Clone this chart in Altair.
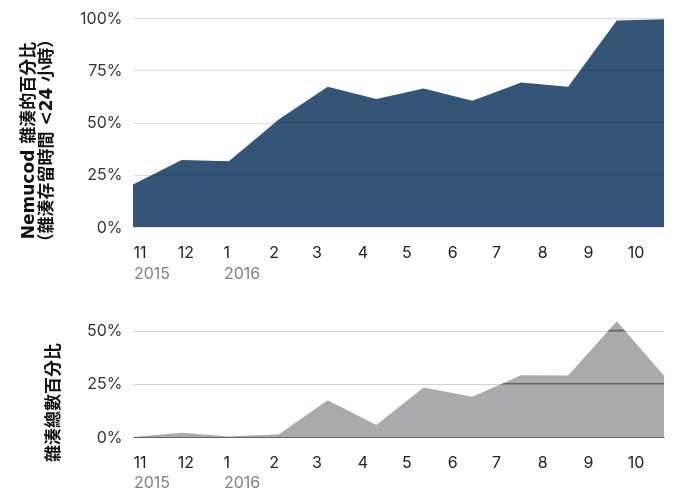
import altair as alt
import pandas as pd

# Data points (evenly spaced through the period)
dates = ["2015-11-01", "2015-12-04", "2016-01-05", "2016-02-08", "2016-03-12",
         "2016-04-14", "2016-05-16", "2016-06-18", "2016-07-21", "2016-08-22",
         "2016-09-24", "2016-10-26"]
nemucod_short_share = [0.203, 0.320, 0.314, 0.516, 0.671, 0.612, 0.663, 0.604,
                       0.691, 0.671, 0.988, 0.994]
hash_total_share = [0.0, 0.020, 0.002, 0.013, 0.173, 0.057, 0.233, 0.189,
                    0.290, 0.289, 0.544, 0.288]

year_labels = ["2015", "2016"]
year_dates = ["2015-11-01", "2016-01-01"]

top_ticks = [0, 0.25, 0.5, 0.75, 1.0]
bottom_ticks = [0, 0.25, 0.5]

top_title = ["Nemucod 雜湊的百分比", "（雜湊存留時間 <24 小時）"]
bottom_title = "雜湊總數百分比"

W = 531
LABEL_FONT = "Inter"
TITLE_FONT = "DejaVu Sans, Noto Sans CJK TC"


def panel(values, color, height, ydomain, yticks, title, title_y, burn_color,
          domain_color, month_pad, year_off):
    df = pd.DataFrame({"date": dates, "value": values})
    xscale = alt.Scale(type="utc")
    xaxis = alt.Axis(
        title=None,
        labelExpr="utcFormat(datum.value, '%-m')",
        tickCount={"interval": "month", "step": 1},
        labelAlign="left",
        labelFlush=False,
        labelOverlap=False,
        ticks=False,
        domain=True,
        domainColor=domain_color,
        domainWidth=1,
        grid=False,
        labelPadding=month_pad,
        labelFontSize=16,
        labelColor="#222",
        labelFont=LABEL_FONT,
        labelBaseline="middle",
        zindex=1,
    )
    yscale = alt.Scale(domain=ydomain, nice=False)
    yaxis = alt.Axis(
        title=title,
        values=yticks,
        format=".0%",
        ticks=False,
        domain=False,
        grid=True,
        gridColor="#dedede",
        gridWidth=1,
        labelFontSize=16,
        labelColor="#333",
        labelFont=LABEL_FONT,
        labelPadding=11,
        titleFont=TITLE_FONT,
        titleFontSize=17,
        titleFontWeight="bold",
        titleColor="#111",
        titlePadding=24,
        titleY=title_y,
        titleLineHeight=18,
    )
    area = alt.Chart(df).mark_area(color=color, opacity=1).encode(
        x=alt.X("date:T", scale=xscale, axis=xaxis),
        y=alt.Y("value:Q", scale=yscale, axis=yaxis),
    )
    grid_df = pd.DataFrame({"value": [t for t in yticks if t > 0]})
    burn = alt.Chart(grid_df).mark_rule(
        color=burn_color, strokeWidth=1.6, blend="color-burn"
    ).encode(y=alt.Y("value:Q", scale=yscale, axis=yaxis))
    ydf = pd.DataFrame({"date": year_dates, "label": year_labels})
    years = alt.Chart(ydf).mark_text(
        align="left", baseline="middle", fontSize=16, color="#808080",
        font=LABEL_FONT, dx=1
    ).encode(
        x=alt.X("date:T", scale=xscale, axis=xaxis),
        y=alt.value(height + year_off),
        text="label:N",
    )
    return alt.layer(area, burn, years).properties(width=W, height=height)


top = panel(nemucod_short_share, "#345577", 209, [0, 1], top_ticks, top_title,
            122, "#f0f0f0", "#dedede", 25, 47)
bottom = panel(hash_total_share, "#a9aaab", 117, [0, 0.55], bottom_ticks,
               bottom_title, 82, "#8c8c8c", "#666666", 25, 46)

chart = alt.vconcat(top, bottom, spacing=38).configure_view(
    stroke=None
).properties(padding={"left": 11, "top": 2, "right": 0, "bottom": 3})

chart.save("out.html", embed_options={"renderer": "svg", "actions": False})
